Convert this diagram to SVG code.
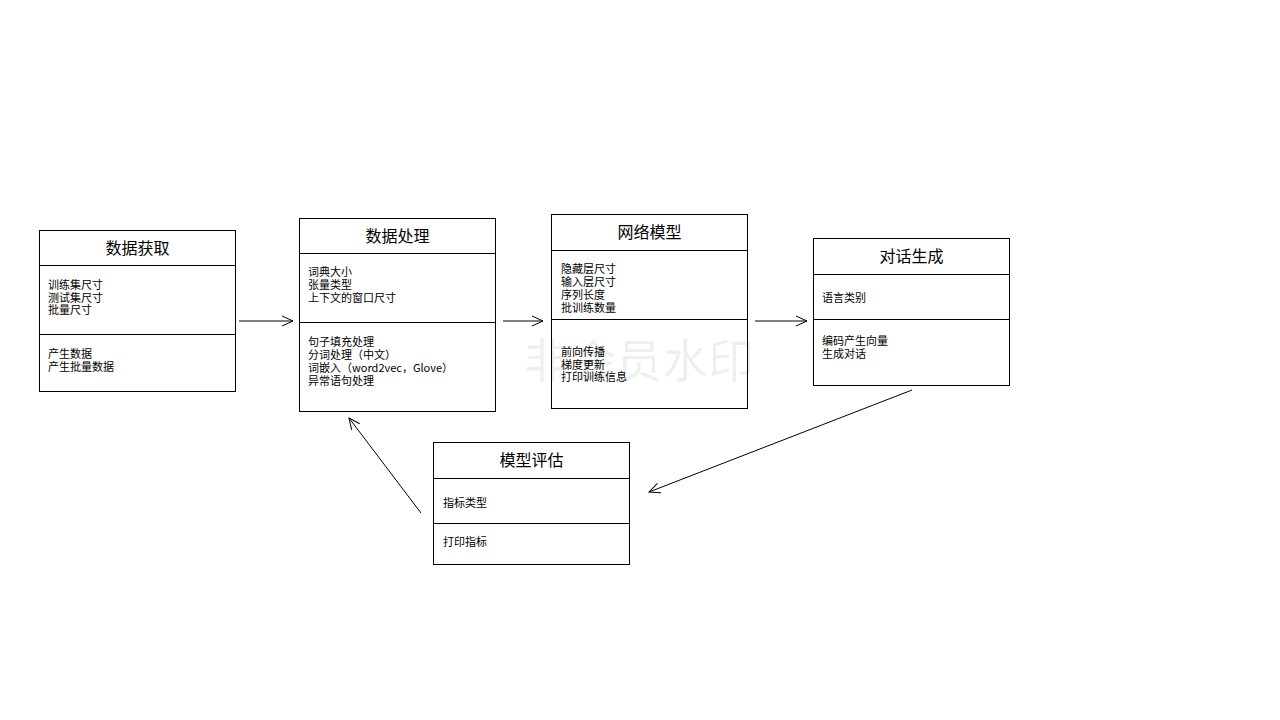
<svg xmlns="http://www.w3.org/2000/svg" width="1280" height="720" viewBox="0 0 1280 720">
<defs>
<marker id="arr" markerWidth="14" markerHeight="12" refX="12" refY="6" orient="auto" markerUnits="userSpaceOnUse">
<path d="M1,1 L12,6 L1,11" fill="none" stroke="#000" stroke-width="1"/>
</marker>
<style>
.box{fill:#fff;stroke:#000;stroke-width:1}
.div{stroke:#000;stroke-width:1}
.title{font-family:"Noto Sans CJK SC","Microsoft YaHei",sans-serif;font-size:16px;fill:#000;text-anchor:middle}
.t{font-family:"Noto Sans CJK SC","Microsoft YaHei",sans-serif;font-size:11px;fill:#000}
.conn{stroke:#000;stroke-width:1;fill:none;marker-end:url(#arr)}
.wm{font-family:"Noto Sans CJK SC",sans-serif;font-size:46px;fill:#000;fill-opacity:0.07}
</style>
</defs>
<rect width="1280" height="720" fill="#fff"/>
<g id="connectors">
<line class="conn" x1="239" y1="321" x2="293" y2="321"/>
<line class="conn" x1="503" y1="321" x2="543" y2="321"/>
<line class="conn" x1="755" y1="321" x2="807" y2="321"/>
<line class="conn" x1="912" y1="390" x2="649" y2="492"/>
<line class="conn" x1="421" y1="513" x2="349" y2="418"/>
</g>
<g id="node-data-acquire">
<rect class="box" x="39.5" y="230.5" width="196" height="161"/>
<line class="div" x1="39.5" y1="265.5" x2="235.5" y2="265.5"/>
<line class="div" x1="39.5" y1="334.5" x2="235.5" y2="334.5"/>
<text class="title" x="137.5" y="254">数据获取</text>
<text class="t" x="48" y="289">训练集尺寸</text>
<text class="t" x="48" y="301.5">测试集尺寸</text>
<text class="t" x="48" y="314">批量尺寸</text>
<text class="t" x="48" y="358">产生数据</text>
<text class="t" x="48" y="370.5">产生批量数据</text>
</g>
<g id="node-data-process">
<rect class="box" x="299.5" y="218.5" width="196" height="193"/>
<line class="div" x1="299.5" y1="253.5" x2="495.5" y2="253.5"/>
<line class="div" x1="299.5" y1="322.5" x2="495.5" y2="322.5"/>
<text class="title" x="397.5" y="242">数据处理</text>
<text class="t" x="308" y="276">词典大小</text>
<text class="t" x="308" y="289">张量类型</text>
<text class="t" x="308" y="302">上下文的窗口尺寸</text>
<text class="t" x="308" y="346">句子填充处理</text>
<text class="t" x="308" y="359">分词处理（中文）</text>
<text class="t" x="308" y="372">词嵌入（word2vec，Glove）</text>
<text class="t" x="308" y="384.5">异常语句处理</text>
</g>
<g id="node-network-model">
<rect class="box" x="551.5" y="214.5" width="196" height="194"/>
<line class="div" x1="551.5" y1="250.5" x2="747.5" y2="250.5"/>
<line class="div" x1="551.5" y1="319.5" x2="747.5" y2="319.5"/>
<text class="title" x="649.5" y="238">网络模型</text>
<text class="t" x="561" y="273">隐藏层尺寸</text>
<text class="t" x="561" y="286">输入层尺寸</text>
<text class="t" x="561" y="299">序列长度</text>
<text class="t" x="561" y="312">批训练数量</text>
<text class="t" x="561" y="356">前向传播</text>
<text class="t" x="561" y="368.5">梯度更新</text>
<text class="t" x="561" y="381">打印训练信息</text>
</g>
<g id="node-dialog-gen">
<rect class="box" x="813.5" y="238.5" width="196" height="147"/>
<line class="div" x1="813.5" y1="274.5" x2="1009.5" y2="274.5"/>
<line class="div" x1="813.5" y1="319.5" x2="1009.5" y2="319.5"/>
<text class="title" x="911.5" y="262">对话生成</text>
<text class="t" x="822" y="302">语言类别</text>
<text class="t" x="822" y="345">编码产生向量</text>
<text class="t" x="822" y="358">生成对话</text>
</g>
<g id="node-model-eval">
<rect class="box" x="433.5" y="442.5" width="196" height="122"/>
<line class="div" x1="433.5" y1="478.5" x2="629.5" y2="478.5"/>
<line class="div" x1="433.5" y1="523.5" x2="629.5" y2="523.5"/>
<text class="title" x="531.5" y="466">模型评估</text>
<text class="t" x="443" y="507">指标类型</text>
<text class="t" x="443" y="546">打印指标</text>
</g>
<text class="wm" x="524" y="377">非会员水印</text>
</svg>
